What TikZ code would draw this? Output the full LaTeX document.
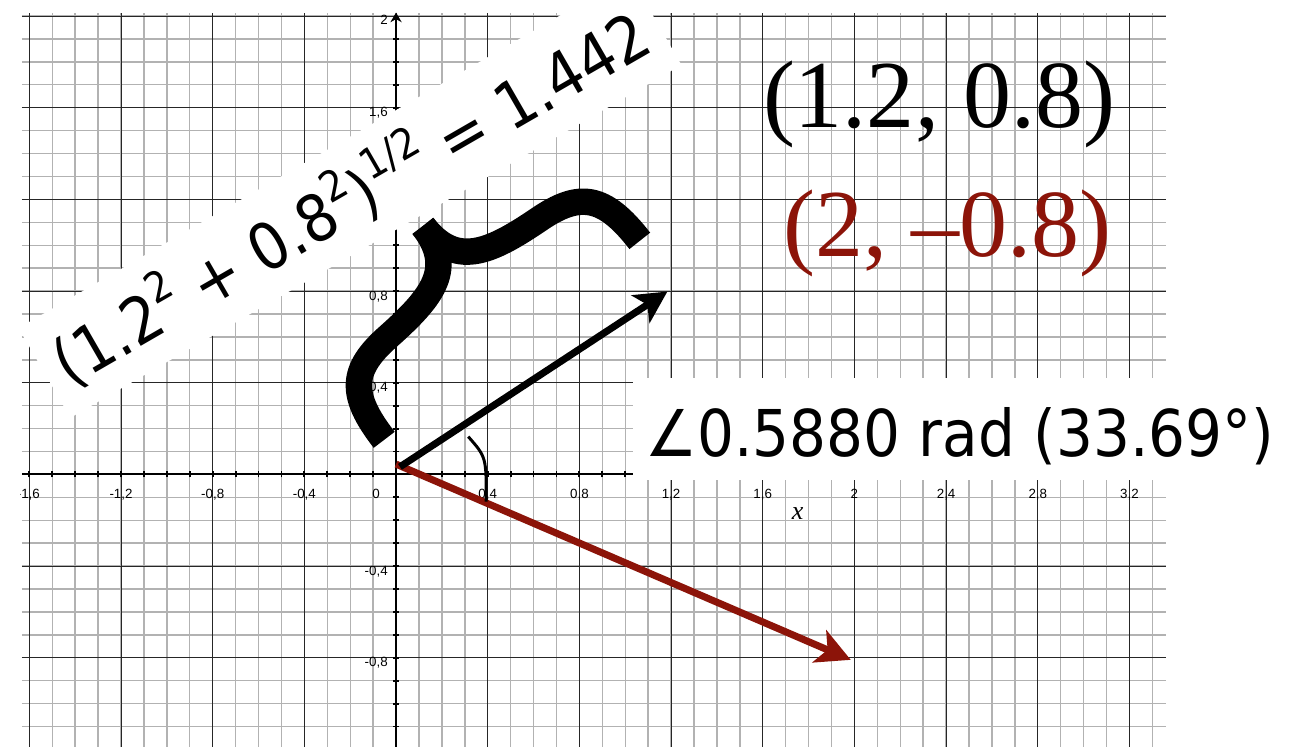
\documentclass[tikz,border=0pt]{standalone}
\usepackage{fontspec}
\setmainfont{Liberation Serif}
\newfontfamily\ticksans{Liberation Sans}
\newfontfamily\wordsans[FakeStretch=0.9]{DejaVu Sans}
\usetikzlibrary{arrows.meta}
\definecolor{vecred}{HTML}{8C1409}
\newcommand{\supnum}[1]{\raisebox{0.44em}{\fontsize{30pt}{30pt}\selectfont #1}}

\begin{document}
\begin{tikzpicture}[x=5.73cm, y=5.73cm,
  minorln/.style={black!30, line width=1pt},
  majorln/.style={black!85, line width=0.7pt},
  axisline/.style={black, line width=1.4pt},
  tickmark/.style={black, line width=1.3pt},
  ticklbl/.style={font=\ticksans\fontsize{9.5pt}{10pt}\selectfont, inner sep=0pt},
  bigsans/.style={font=\wordsans\fontsize{45.9pt}{50pt}\selectfont, inner sep=0pt},
  bigserif/.style={font=\fontsize{68.3pt}{72pt}\selectfont, inner sep=0pt},
  vecline/.style={line width=5pt},
  bracestroke/.style={line width=0.66cm}
]
\fill[white] (-1.728,-1.189) rectangle (3.931,2.070);
\useasboundingbox (-1.728,-1.189) rectangle (3.931,2.070);

% grid
\foreach \i in {-16,...,33} \draw[minorln] (\i/10,-1.19) -- (\i/10,2.013);
\foreach \j in {-11,...,20} \draw[minorln] (-1.632,\j/10) -- (3.361,\j/10);
\foreach \i in {-16,-12,...,32} \draw[majorln] (\i/10,-1.19) -- (\i/10,2.013);
\foreach \j in {-8,-4,...,20} \draw[majorln] (-1.632,\j/10) -- (3.361,\j/10);

% axes
\coordinate (O) at (0,0);
\draw[axisline] (-1.632,0) -- (3.361,0);
\draw[axisline, -{Stealth[length=0.24cm, width=0.28cm]}] (0,-1.19) -- (0,2.015);
\foreach \i in {-16,...,33} \draw[tickmark] (\i/10,-0.013) -- (\i/10,0.013);
\foreach \j in {-11,...,19} \draw[tickmark] (-0.013,\j/10) -- (0.013,\j/10);

\foreach \v/\t [count=\n] in {-1.2/{-1,2}, -0.8/{-0,8}, -0.4/{-0,4}, 0.4/{0,4}, 0.8/{0,8},
    1.2/{1,2}, 1.6/{1,6}, 2/{2}, 2.4/{2,4}, 2.8/{2,8}, 3.2/{3,2}}
  \node[ticklbl, anchor=base] (xt\n) at (\v,-0.104) {\t};
\node[ticklbl, anchor=base east] (xtfirst) at (-1.553,-0.104) {-1,6};
\node[ticklbl, anchor=base] (xtzero) at (-0.087,-0.104) {0};
\foreach \v/\t [count=\n] in {2/{2}, 1.6/{1,6}, 0.8/{0,8}, 0.4/{0,4}, -0.4/{-0,4}, -0.8/{-0,8}}
  \node[ticklbl, anchor=base east] (yt\n) at (-0.035,\v-0.039) {\t};
\node[font=\itshape\fontsize{18.5pt}{20pt}\selectfont, inner sep=0pt, anchor=base] (xname) at (1.752,-0.1985) {x};
\fill[white] (-1.728,-1.189) rectangle (-1.641,2.070);

% labels on white
\node[bigsans, fill=white, rotate=30, minimum width=17.64cm, minimum height=2.59cm] (normbox)
  at (-0.2007,1.2125) {(1.2\supnum{2} + 0.8\supnum{2})\supnum{1/2} = 1.442};
\fill[white] (1.034,-0.024) rectangle (3.931,0.421);
\node[bigsans, anchor=base west] (anglelbl) at (1.086,0.0764) {∠0.5880 rad (33.69°)};

\node[bigserif, anchor=base] (ptA) at (2.369,1.512) {(1.2, 0.8)};
\node[bigserif, anchor=base, text=vecred] (ptB) at (2.406,0.949) {(2, –0.8)};

% vectors
\coordinate (tailA) at (0.017,0.033);
\coordinate (headA) at (1.184,0.798);
\coordinate (tailB) at (0,0.045);
\coordinate (headB) at (1.984,-0.809);
\draw[vecline, vecred, -{Stealth[length=0.85cm, width=0.87cm, inset=0.22cm]}] (tailB) -- (headB);
\draw[vecline, -{Stealth[length=0.8cm, width=0.82cm, inset=0.2cm]}] (tailA) -- (headA);

\coordinate (arcA) at (0.315,0.165);
\coordinate (arcB) at (0.393,-0.119);
\draw[line width=2.1pt] (arcA) .. controls (0.394,0.075) .. (arcB);

% brace
\begin{scope}[shift={(2.899cm,3.352cm)}, rotate=37.9, x=0.025cm, y=0.025cm]
  \draw[bracestroke] (-162,0) .. controls (-162,58) and (-145,76) .. (-95,79)
    .. controls (-35,83) and (0,92) .. (0,145);
  \draw[bracestroke] (162,0) .. controls (162,58) and (145,76) .. (95,79)
    .. controls (35,83) and (0,92) .. (0,145);
\end{scope}
\end{tikzpicture}
\end{document}
